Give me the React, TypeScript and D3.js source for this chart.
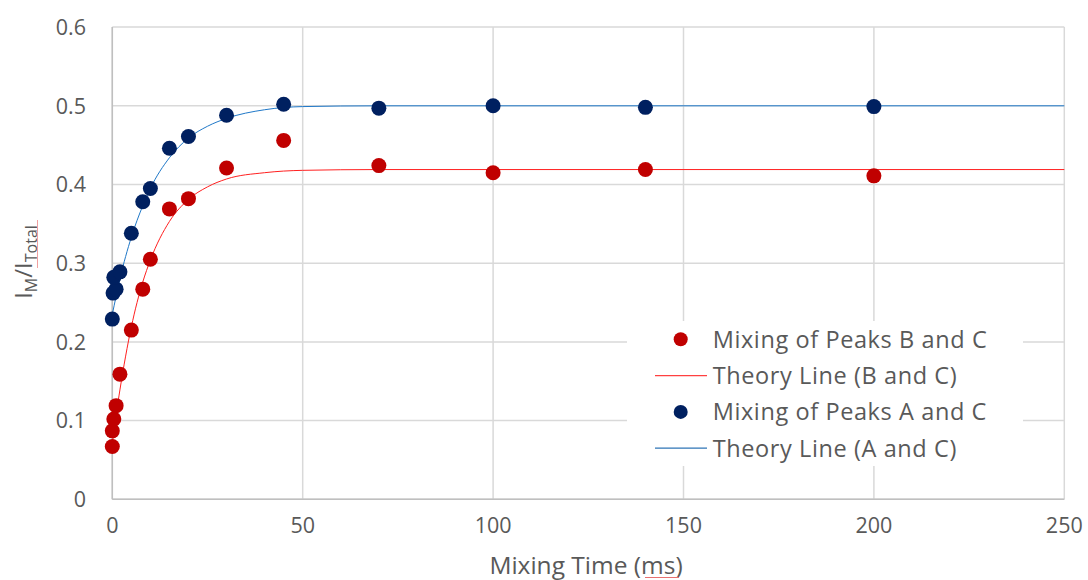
import React from "react";
import * as d3 from "d3";

// Measured intensity ratios, peaks B and C
const timeBC = [0, 0, 0.4, 1, 2, 5, 8, 10, 15, 20, 30, 45, 70, 100, 140, 200];
const ratioBC = [0.067, 0.087, 0.102, 0.119, 0.159, 0.215, 0.267, 0.305, 0.369, 0.382, 0.421, 0.456, 0.424, 0.415, 0.419, 0.411];

// Measured intensity ratios, peaks A and C
const timeAC = [0, 0.2, 1, 0.4, 2, 5, 8, 10, 15, 20, 30, 45, 70, 100, 140, 200];
const ratioAC = [0.229, 0.262, 0.267, 0.282, 0.289, 0.338, 0.378, 0.395, 0.446, 0.461, 0.488, 0.502, 0.497, 0.500, 0.498, 0.499];

// Theory curves
const theoryTime = [0, 1, 2, 5, 8, 10, 15, 20, 25, 30, 40, 50, 70, 100, 140, 200, 250];
const theoryBC = [0.07, 0.107, 0.139, 0.219, 0.276, 0.304, 0.353, 0.381, 0.397, 0.407, 0.415, 0.418, 0.419, 0.419, 0.419, 0.419, 0.419];
const theoryAC = [0.235, 0.258, 0.28, 0.333, 0.373, 0.395, 0.434, 0.459, 0.474, 0.484, 0.495, 0.499, 0.5, 0.5, 0.5, 0.5, 0.5];

const xTicks = [0, 50, 100, 150, 200, 250];
const yTicks = [0, 0.1, 0.2, 0.3, 0.4, 0.5, 0.6];

const legendItems = [
  { label: "Mixing of Peaks B and C", kind: "dot", color: "#C00000" },
  { label: "Theory Line (B and C)", kind: "line", color: "#FF4040" },
  { label: "Mixing of Peaks A and C", kind: "dot", color: "#002060" },
  { label: "Theory Line (A and C)", kind: "line", color: "#2E75B6" },
];

const W = 1088;
const H = 580;
const FONT = "'Open Sans', Lato, sans-serif";
const TEXT = "#595959";

export default function App() {
  const x = d3.scaleLinear().domain([0, 250]).range([112.3, 1064.3]);
  const y = d3.scaleLinear().domain([0, 0.6]).range([499.3, 27.1]);

  const line = d3
    .line<number>()
    .x((_, i) => x(theoryTime[i]))
    .curve(d3.curveMonotoneX);

  const pathBC = line.y((v) => y(v))(theoryBC) as string;
  const pathAC = line.y((v) => y(v))(theoryAC) as string;

  const legX = 627;
  const legY = 321;
  const rowH = 36.3;

  return (
    <svg
      width={W}
      height={H}
      style={{ position: "absolute", left: 0, top: 0, background: "#fff" }}
      fontFamily={FONT}
    >
      {/* grid */}
      {yTicks.map((t) => (
        <line key={"gy" + t} x1={x(0)} x2={x(250)} y1={y(t)} y2={y(t)} stroke="#D9D9D9" strokeWidth={1.5} />
      ))}
      {xTicks.map((t) => (
        <line key={"gx" + t} x1={x(t)} x2={x(t)} y1={y(0)} y2={y(0.6)} stroke="#D9D9D9" strokeWidth={1.5} />
      ))}
      {/* axes */}
      <line x1={x(0)} x2={x(250)} y1={y(0)} y2={y(0)} stroke="#BFBFBF" strokeWidth={1.5} />
      <line x1={x(0)} x2={x(0)} y1={y(0)} y2={y(0.6)} stroke="#BFBFBF" strokeWidth={1.5} />

      {/* tick labels */}
      {yTicks.map((t) => (
        <text key={"ty" + t} x={86} y={y(t)} dy="0.36em" textAnchor="end" fontSize={21.5} fill={TEXT}>
          {t === 0 ? "0" : d3.format(".1f")(t)}
        </text>
      ))}
      {xTicks.map((t) => (
        <text key={"tx" + t} x={x(t)} y={533} textAnchor="middle" fontSize={21.5} fill={TEXT}>
          {t}
        </text>
      ))}

      {/* axis titles */}
      <text x={586} y={574} textAnchor="middle" fontSize={24.5} fill={TEXT}>
        Mixing Time (ms)
      </text>
      <line x1={645} x2={679} y1={577.5} y2={577.5} stroke="#E87070" strokeWidth={1} />
      <g transform="translate(32,262) rotate(-90)">
        <text textAnchor="middle" fontSize={24} fill={TEXT}>
          I<tspan fontSize={16} dy={5}>M</tspan>
          <tspan dy={-5}>/I</tspan>
          <tspan fontSize={16} dy={5}>Total</tspan>
        </text>
      </g>
      <line x1={37.5} x2={37.5} y1={220} y2={268} stroke="#F0A0A0" strokeWidth={1} />

      {/* theory lines */}
      <path d={pathBC} fill="none" stroke="#FF2020" strokeWidth={1} />
      <path d={pathAC} fill="none" stroke="#1F78C8" strokeWidth={1} />

      {/* measured points */}
      {timeBC.map((t, i) => (
        <circle key={"bc" + i} cx={x(t)} cy={y(ratioBC[i])} r={7.5} fill="#C00000" />
      ))}
      {timeAC.map((t, i) => (
        <circle key={"ac" + i} cx={x(t)} cy={y(ratioAC[i])} r={7.5} fill="#002060" />
      ))}

      {/* legend */}
      <rect x={legX} y={legY} width={396} height={145} fill="#fff" />
      {legendItems.map((it, i) => {
        const cy = legY + 18.3 + i * rowH;
        return (
          <g key={it.label}>
            {it.kind === "dot" ? (
              <circle cx={680.7} cy={cy} r={7} fill={it.color} />
            ) : (
              <line x1={655} x2={707} y1={cy} y2={cy} stroke={it.color} strokeWidth={1.2} />
            )}
            <text x={712.7} y={cy} dy="0.36em" fontSize={23.5} letterSpacing={0.6} fill={TEXT}>
              {it.label}
            </text>
          </g>
        );
      })}
    </svg>
  );
}
